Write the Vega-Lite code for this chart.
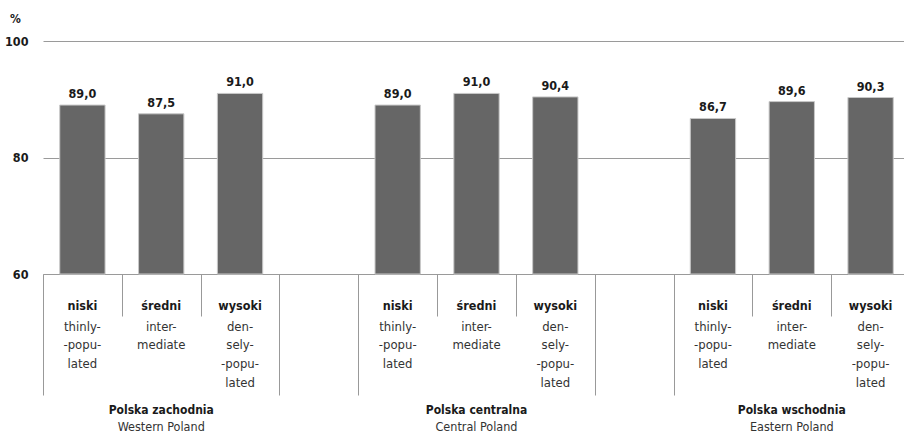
{
  "$schema": "https://vega.github.io/schema/vega-lite/v6.json",
  "autosize": {"type": "none"},
  "width": 867,
  "height": 233,
  "padding": {"left": 43, "top": 41, "right": -6, "bottom": 159},
  "background": "white",
  "config": {
    "view": {"stroke": null},
    "font": "DejaVu Sans Condensed, Liberation Sans, sans-serif",
    "locale": {"number": {"decimal": ",", "thousands": " ", "grouping": [3], "currency": ["", " zł"]}},
    "axis": {"labelFont": "DejaVu Sans Condensed, Liberation Sans, sans-serif", "titleFont": "DejaVu Sans Condensed, Liberation Sans, sans-serif", "labelColor": "#1a1a1a", "titleColor": "#1a1a1a"}
  },
  "data": {
    "values": [
      {"slot": "Polska zachodnia|Western Poland|niski|thinly-/-popu-/lated", "value": 89.0},
      {"slot": "Polska zachodnia|Western Poland|średni|inter-/mediate", "value": 87.5},
      {"slot": "Polska zachodnia|Western Poland|wysoki|den-/sely-/-popu-/lated", "value": 91.0},
      {"slot": "Polska centralna|Central Poland|niski|thinly-/-popu-/lated", "value": 89.0},
      {"slot": "Polska centralna|Central Poland|średni|inter-/mediate", "value": 91.0},
      {"slot": "Polska centralna|Central Poland|wysoki|den-/sely-/-popu-/lated", "value": 90.4},
      {"slot": "Polska wschodnia|Eastern Poland|niski|thinly-/-popu-/lated", "value": 86.7},
      {"slot": "Polska wschodnia|Eastern Poland|średni|inter-/mediate", "value": 89.6},
      {"slot": "Polska wschodnia|Eastern Poland|wysoki|den-/sely-/-popu-/lated", "value": 90.3}
    ]
  },
  "resolve": {"axis": {"x": "independent"}},
  "layer": [
    {
      "mark": {"type": "bar", "color": "#666666", "stroke": "#c8c8c8", "strokeWidth": 1},
      "encoding": {
        "x": {
          "field": "slot", "type": "nominal", "sort": null,
          "scale": {"type": "band", "paddingInner": 0.425, "paddingOuter": 0.2125,
            "domain": ["Polska zachodnia|Western Poland|niski|thinly-/-popu-/lated", "Polska zachodnia|Western Poland|średni|inter-/mediate", "Polska zachodnia|Western Poland|wysoki|den-/sely-/-popu-/lated", "gap1", "Polska centralna|Central Poland|niski|thinly-/-popu-/lated", "Polska centralna|Central Poland|średni|inter-/mediate", "Polska centralna|Central Poland|wysoki|den-/sely-/-popu-/lated", "gap2", "Polska wschodnia|Eastern Poland|niski|thinly-/-popu-/lated", "Polska wschodnia|Eastern Poland|średni|inter-/mediate", "Polska wschodnia|Eastern Poland|wysoki|den-/sely-/-popu-/lated"]},
          "axis": {"orient": "bottom", "title": null, "labels": false, "domain": false, "grid": false, "ticks": true, "tickSize": 42, "tickOffset": -39.41, "tickColor": "#999999", "tickWidth": 1}
        },
        "y": {
          "field": "value", "type": "quantitative",
          "scale": {"domain": [60, 100], "zero": false, "nice": false},
          "axis": {"values": [60, 80, 100], "grid": true, "gridColor": "#9a9a9a", "gridWidth": 1, "domain": false, "ticks": false, "labelPadding": 15, "labelFontSize": 12.5, "labelFontWeight": "bold",
            "title": "%", "titleAngle": 0, "titleX": -28, "titleY": -23, "titleAlign": "center", "titleBaseline": "middle", "titleFontSize": 12, "titleFontWeight": "bold"}
        },
        "y2": {"datum": 60}
      }
    },
    {
      "mark": {"type": "text", "baseline": "alphabetic", "dy": -7, "fontSize": 12.5, "fontWeight": "bold", "color": "#1a1a1a"},
      "encoding": {
        "x": {
          "field": "slot", "type": "nominal", "sort": null,
          "scale": {"type": "band", "paddingInner": 0.425, "paddingOuter": 0.2125,
            "domain": ["Polska zachodnia|Western Poland|niski|thinly-/-popu-/lated", "Polska zachodnia|Western Poland|średni|inter-/mediate", "Polska zachodnia|Western Poland|wysoki|den-/sely-/-popu-/lated", "gap1", "Polska centralna|Central Poland|niski|thinly-/-popu-/lated", "Polska centralna|Central Poland|średni|inter-/mediate", "Polska centralna|Central Poland|wysoki|den-/sely-/-popu-/lated", "gap2", "Polska wschodnia|Eastern Poland|niski|thinly-/-popu-/lated", "Polska wschodnia|Eastern Poland|średni|inter-/mediate", "Polska wschodnia|Eastern Poland|wysoki|den-/sely-/-popu-/lated"]},
          "axis": {"orient": "bottom", "title": null, "labels": false, "domain": false, "grid": false, "ticks": true, "tickSize": 121, "tickOffset": -39.41, "tickColor": "#999999", "tickWidth": 1,
            "values": ["Polska zachodnia|Western Poland|niski|thinly-/-popu-/lated", "gap1", "Polska centralna|Central Poland|niski|thinly-/-popu-/lated", "gap2", "Polska wschodnia|Eastern Poland|niski|thinly-/-popu-/lated"]}
        },
        "y": {"field": "value", "type": "quantitative"},
        "text": {"field": "value", "type": "quantitative", "format": ".1f"}
      }
    },
    {
      "mark": {"type": "bar", "opacity": 0},
      "encoding": {
        "x": {
          "field": "slot", "type": "nominal", "sort": null,
          "scale": {"type": "band", "paddingInner": 0.425, "paddingOuter": 0.2125,
            "domain": ["Polska zachodnia|Western Poland|niski|thinly-/-popu-/lated", "Polska zachodnia|Western Poland|średni|inter-/mediate", "Polska zachodnia|Western Poland|wysoki|den-/sely-/-popu-/lated", "gap1", "Polska centralna|Central Poland|niski|thinly-/-popu-/lated", "Polska centralna|Central Poland|średni|inter-/mediate", "Polska centralna|Central Poland|wysoki|den-/sely-/-popu-/lated", "gap2", "Polska wschodnia|Eastern Poland|niski|thinly-/-popu-/lated", "Polska wschodnia|Eastern Poland|średni|inter-/mediate", "Polska wschodnia|Eastern Poland|wysoki|den-/sely-/-popu-/lated"]},
          "axis": {"orient": "bottom", "title": null, "ticks": false, "domain": false, "grid": false, "labelOverlap": false, "labelAngle": 0,
            "values": ["Polska zachodnia|Western Poland|niski|thinly-/-popu-/lated", "Polska zachodnia|Western Poland|średni|inter-/mediate", "Polska zachodnia|Western Poland|wysoki|den-/sely-/-popu-/lated", "Polska centralna|Central Poland|niski|thinly-/-popu-/lated", "Polska centralna|Central Poland|średni|inter-/mediate", "Polska centralna|Central Poland|wysoki|den-/sely-/-popu-/lated", "Polska wschodnia|Eastern Poland|niski|thinly-/-popu-/lated", "Polska wschodnia|Eastern Poland|średni|inter-/mediate", "Polska wschodnia|Eastern Poland|wysoki|den-/sely-/-popu-/lated"],
            "labelExpr": "split(datum.value, '|')[2]", "labelFontSize": 12.5, "labelFontWeight": "bold", "labelBaseline": "alphabetic", "labelPadding": 35}
        }
      }
    },
    {
      "mark": {"type": "bar", "opacity": 0},
      "encoding": {
        "x": {
          "field": "slot", "type": "nominal", "sort": null,
          "scale": {"type": "band", "paddingInner": 0.425, "paddingOuter": 0.2125,
            "domain": ["Polska zachodnia|Western Poland|niski|thinly-/-popu-/lated", "Polska zachodnia|Western Poland|średni|inter-/mediate", "Polska zachodnia|Western Poland|wysoki|den-/sely-/-popu-/lated", "gap1", "Polska centralna|Central Poland|niski|thinly-/-popu-/lated", "Polska centralna|Central Poland|średni|inter-/mediate", "Polska centralna|Central Poland|wysoki|den-/sely-/-popu-/lated", "gap2", "Polska wschodnia|Eastern Poland|niski|thinly-/-popu-/lated", "Polska wschodnia|Eastern Poland|średni|inter-/mediate", "Polska wschodnia|Eastern Poland|wysoki|den-/sely-/-popu-/lated"]},
          "axis": {"orient": "bottom", "title": null, "ticks": false, "domain": false, "grid": false, "labelOverlap": false, "labelAngle": 0,
            "values": ["Polska zachodnia|Western Poland|niski|thinly-/-popu-/lated", "Polska zachodnia|Western Poland|średni|inter-/mediate", "Polska zachodnia|Western Poland|wysoki|den-/sely-/-popu-/lated", "Polska centralna|Central Poland|niski|thinly-/-popu-/lated", "Polska centralna|Central Poland|średni|inter-/mediate", "Polska centralna|Central Poland|wysoki|den-/sely-/-popu-/lated", "Polska wschodnia|Eastern Poland|niski|thinly-/-popu-/lated", "Polska wschodnia|Eastern Poland|średni|inter-/mediate", "Polska wschodnia|Eastern Poland|wysoki|den-/sely-/-popu-/lated"],
            "labelExpr": "split(split(datum.value, '|')[3], '/')", "labelFontSize": 13, "labelFontWeight": "normal", "labelColor": "#333333", "labelBaseline": "alphabetic", "labelPadding": 56, "labelLineHeight": 18.7}
        }
      }
    },
    {
      "mark": {"type": "bar", "opacity": 0},
      "encoding": {
        "x": {
          "field": "slot", "type": "nominal", "sort": null,
          "scale": {"type": "band", "paddingInner": 0.425, "paddingOuter": 0.2125,
            "domain": ["Polska zachodnia|Western Poland|niski|thinly-/-popu-/lated", "Polska zachodnia|Western Poland|średni|inter-/mediate", "Polska zachodnia|Western Poland|wysoki|den-/sely-/-popu-/lated", "gap1", "Polska centralna|Central Poland|niski|thinly-/-popu-/lated", "Polska centralna|Central Poland|średni|inter-/mediate", "Polska centralna|Central Poland|wysoki|den-/sely-/-popu-/lated", "gap2", "Polska wschodnia|Eastern Poland|niski|thinly-/-popu-/lated", "Polska wschodnia|Eastern Poland|średni|inter-/mediate", "Polska wschodnia|Eastern Poland|wysoki|den-/sely-/-popu-/lated"]},
          "axis": {"orient": "bottom", "title": null, "ticks": false, "domain": false, "grid": false, "labelOverlap": false, "labelAngle": 0,
            "values": ["Polska zachodnia|Western Poland|średni|inter-/mediate", "Polska centralna|Central Poland|średni|inter-/mediate", "Polska wschodnia|Eastern Poland|średni|inter-/mediate"],
            "labelExpr": "split(datum.value, '|')[0]", "labelFontSize": 12, "labelFontWeight": "bold", "labelBaseline": "alphabetic", "labelPadding": 139}
        }
      }
    },
    {
      "mark": {"type": "bar", "opacity": 0},
      "encoding": {
        "x": {
          "field": "slot", "type": "nominal", "sort": null,
          "scale": {"type": "band", "paddingInner": 0.425, "paddingOuter": 0.2125,
            "domain": ["Polska zachodnia|Western Poland|niski|thinly-/-popu-/lated", "Polska zachodnia|Western Poland|średni|inter-/mediate", "Polska zachodnia|Western Poland|wysoki|den-/sely-/-popu-/lated", "gap1", "Polska centralna|Central Poland|niski|thinly-/-popu-/lated", "Polska centralna|Central Poland|średni|inter-/mediate", "Polska centralna|Central Poland|wysoki|den-/sely-/-popu-/lated", "gap2", "Polska wschodnia|Eastern Poland|niski|thinly-/-popu-/lated", "Polska wschodnia|Eastern Poland|średni|inter-/mediate", "Polska wschodnia|Eastern Poland|wysoki|den-/sely-/-popu-/lated"]},
          "axis": {"orient": "bottom", "title": null, "ticks": false, "domain": false, "grid": false, "labelOverlap": false, "labelAngle": 0,
            "values": ["Polska zachodnia|Western Poland|średni|inter-/mediate", "Polska centralna|Central Poland|średni|inter-/mediate", "Polska wschodnia|Eastern Poland|średni|inter-/mediate"],
            "labelExpr": "split(datum.value, '|')[1]", "labelFontSize": 12.5, "labelFontWeight": "normal", "labelColor": "#333333", "labelBaseline": "alphabetic", "labelPadding": 156}
        }
      }
    }
  ]
}
